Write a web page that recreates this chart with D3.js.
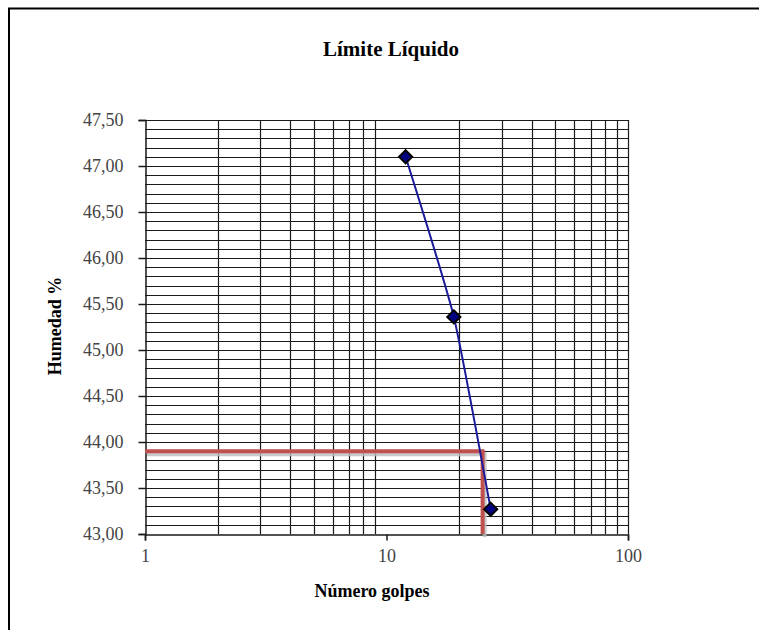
<!DOCTYPE html>
<html><head><meta charset="utf-8">
<script src="https://cdn.jsdelivr.net/npm/d3@7"></script>
<style>body{margin:0;background:#fff}svg{display:block}svg text{font-family:"Times New Roman","Liberation Serif","DejaVu Serif",serif}</style>
</head><body>
<svg id="c" width="759" height="630"></svg>
<script>
const golpes = [12, 19, 27];
const humedad = [47.10, 45.36, 43.27];
const limiteGolpes = 25;
const limiteHumedad = 43.90;
const yTicks = [43.0, 43.5, 44.0, 44.5, 45.0, 45.5, 46.0, 46.5, 47.0, 47.5];
const xTicks = [1, 10, 100];
const title = "Límite Líquido";
const xTitle = "Número golpes";
const yTitle = "Humedad %";

const FONT = '"Times New Roman","Liberation Serif","DejaVu Serif",serif';
const svg = d3.select("#c");
const L = 145, R = 628, T = 120, B = 534;
const x = d3.scaleLog().domain([1, 100]).range([L, R]);
const y = d3.scaleLinear().domain([43, 47.5]).range([B, T]);

// frame
svg.append("line").attr("x1", 8).attr("x2", 759).attr("y1", 8.5).attr("y2", 8.5).attr("stroke", "#000").attr("stroke-width", 2);
svg.append("line").attr("x1", 9).attr("x2", 9).attr("y1", 8).attr("y2", 630).attr("stroke", "#000").attr("stroke-width", 2);

// horizontal grid every 0.1
const hg = d3.range(431, 476).map(v => v / 10);
svg.append("g").selectAll("line").data(hg).join("line")
  .attr("x1", L).attr("x2", R)
  .attr("y1", d => Math.round(y(d)) + 0.5).attr("y2", d => Math.round(y(d)) + 0.5)
  .attr("stroke", "#1a1a1a").attr("stroke-width", 1.2);

// vertical grid
const vg = [];
[1, 10].forEach(b => { for (let i = 2; i <= 9; i++) vg.push(b * i); });
vg.push(100);
svg.append("g").selectAll("line").data(vg).join("line")
  .attr("x1", d => Math.round(x(d)) + 0.5).attr("x2", d => Math.round(x(d)) + 0.5)
  .attr("y1", T).attr("y2", B)
  .attr("stroke", "#1a1a1a").attr("stroke-width", 1.2);

// axes
const yAxis = d3.axisLeft(y).tickValues(yTicks).tickSize(7).tickPadding(15)
  .tickFormat(d => d3.format(".2f")(d).replace(".", ","));
const gy = svg.append("g").attr("transform", `translate(${L + 0.5},0)`).call(yAxis);
const xAxis = d3.axisBottom(x).tickValues(xTicks).tickSize(6).tickPadding(9).tickFormat(d3.format("d"));
const gx = svg.append("g").attr("transform", `translate(0,${B + 0.5})`).call(xAxis);
[gy, gx].forEach(g => {
  g.attr("font-family", FONT).attr("font-size", 18);
  g.select(".domain").attr("stroke", "#1a1a1a").attr("stroke-width", 1.5);
  g.selectAll(".tick line").attr("stroke", "#1a1a1a").attr("stroke-width", 1.5);
  g.selectAll("text").attr("font-family", FONT).attr("font-size", 18).attr("fill", "#444");
});

// red reference lines with shadow
const refPath = d3.line()([[x(1), y(limiteHumedad)], [x(limiteGolpes), y(limiteHumedad)], [x(limiteGolpes), y(43)]]);
svg.append("path").attr("d", refPath).attr("transform", "translate(2,3)")
  .attr("fill", "none").attr("stroke", "#bbb").attr("stroke-width", 4).attr("opacity", 0.8);
svg.append("path").attr("d", refPath).attr("fill", "none").attr("stroke", "#c0504d").attr("stroke-width", 4);

// data line
const pts = golpes.map((g, i) => [x(g), y(humedad[i])]);
svg.append("path").attr("d", d3.line().curve(d3.curveCardinal.tension(0.5))(pts))
  .attr("fill", "none").attr("stroke", "#1a1a9a").attr("stroke-width", 2);
svg.append("g").selectAll("path").data(pts).join("path")
  .attr("d", d3.symbol(d3.symbolDiamond2, 110)())
  .attr("transform", d => `translate(${d[0]},${d[1]})`)
  .attr("fill", "#000080").attr("stroke", "#000").attr("stroke-width", 2);

// titles
svg.append("text").attr("x", 391).attr("y", 56).attr("text-anchor", "middle")
  .attr("font-family", FONT).attr("font-weight", "bold").attr("font-size", 21).text(title);
svg.append("text").attr("x", 372).attr("y", 597).attr("text-anchor", "middle")
  .attr("font-family", FONT).attr("font-weight", "bold").attr("font-size", 18).text(xTitle);
svg.append("text").attr("transform", `translate(61,326) rotate(-90)`).attr("text-anchor", "middle")
  .attr("font-family", FONT).attr("font-weight", "bold").attr("font-size", 18).text(yTitle);
</script>
</body></html>
